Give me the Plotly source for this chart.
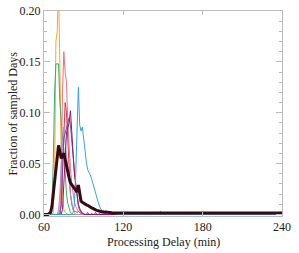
import plotly.graph_objects as go

START = 60
END = 240
delay = list(range(START, END + 1))

# Values per minute starting at 60 min; zero beyond listed values
orange = [0, 0, 0, 0, 0, 0, 0, 0.002, 0.04, 0.17, 0.18, 0.23, 0.13, 0.06, 0.02, 0.005, 0.002, 0.001]
green = [0, 0, 0, 0, 0, 0.002, 0.01, 0.05, 0.12, 0.148, 0.148, 0.148, 0.11, 0.09, 0.075, 0.065,
         0.04, 0.02, 0.011, 0.005, 0.002, 0.001]
pink = [0, 0, 0, 0, 0, 0, 0, 0, 0, 0, 0, 0, 0.005, 0.04, 0.12, 0.16, 0.14, 0.13, 0.09, 0.06,
        0.045, 0.03, 0.02, 0.012, 0.008, 0.005, 0.003, 0.002, 0.001]
crimson = [0, 0, 0, 0, 0, 0, 0, 0, 0, 0, 0, 0, 0, 0.01, 0.05, 0.09, 0.11, 0.10, 0.07, 0.04,
           0.02, 0.01, 0.005, 0.003, 0.003, 0.002, 0.003, 0.002, 0.001]
magenta = [0, 0, 0, 0, 0, 0, 0, 0, 0, 0, 0, 0, 0, 0, 0.005, 0.03, 0.06, 0.08, 0.085, 0.09,
           0.102, 0.08, 0.06, 0.04, 0.03, 0.02, 0.01, 0.006, 0.003, 0.002]
purple = [0, 0, 0, 0, 0, 0, 0, 0, 0, 0, 0, 0, 0, 0.01, 0.04, 0.075, 0.08, 0.086, 0.09, 0.095,
          0.088, 0.07, 0.057, 0.042, 0.03, 0.015, 0.008, 0.004, 0.002, 0.001, 0.001, 0, 0, 0.002,
          0, 0, 0.001, 0, 0, 0.002, 0, 0, 0.001, 0, 0, 0, 0.002, 0, 0, 0, 0.001, 0, 0, 0, 0.002,
          0, 0, 0, 0, 0.001, 0, 0, 0, 0, 0, 0.002, 0, 0, 0, 0, 0, 0, 0, 0, 0, 0, 0, 0, 0, 0,
          0, 0, 0, 0, 0, 0, 0, 0, 0.003, 0.001, 0]
lavender = [0, 0, 0, 0, 0, 0, 0, 0, 0, 0, 0, 0.005, 0.02, 0.05, 0.075, 0.086, 0.07, 0.06, 0.05,
            0.035, 0.02, 0.01, 0.005, 0.002]
blue = [0] * 22 + [0.002, 0.01, 0.04, 0.09, 0.125, 0.088, 0.082, 0.086, 0.073, 0.066, 0.052,
                   0.044, 0.042, 0.039, 0.035, 0.03, 0.027, 0.021, 0.016, 0.012, 0.008, 0.005,
                   0.003, 0.004, 0.002, 0.004, 0.002, 0.003, 0.001, 0.003, 0.001, 0.002, 0.001]
overall = [0, 0, 0, 0, 0.001, 0.002, 0.008, 0.02, 0.035, 0.05, 0.062, 0.068, 0.062, 0.055, 0.058,
           0.06, 0.054, 0.047, 0.042, 0.036, 0.031, 0.029, 0.027, 0.025, 0.023, 0.022, 0.029,
           0.018, 0.013, 0.012, 0.011, 0.010, 0.0095, 0.009, 0.008, 0.007, 0.0065, 0.006, 0.005,
           0.0045, 0.004, 0.0035, 0.003, 0.003, 0.0025, 0.0025, 0.0025, 0.002, 0.002, 0.002, 0.002]
overall_tail = 0.0015

x_title = "Processing Delay (min)"
y_title = "Fraction of sampled Days"

series = [
    ("orange", orange, "#f7a823", 1),
    ("green", green, "#35b26b", 1),
    ("pink", pink, "#f2707a", 1),
    ("crimson", crimson, "#e0344a", 1),
    ("lavender", lavender, "#a68fd2", 1),
    ("purple", purple, "#7a4ea6", 1),
    ("magenta", magenta, "#8e1a6a", 1),
    ("blue", blue, "#33a6df", 1),
]


def pad(vals, fill=0.0):
    return list(vals) + [fill] * (len(delay) - len(vals))


fig = go.Figure()
for name, vals, color, w in series:
    fig.add_trace(go.Scatter(x=delay, y=pad(vals), mode="lines", name=name,
                             line=dict(color=color, width=w)))
fig.add_trace(go.Scatter(x=delay, y=pad(overall, overall_tail), mode="lines", name="all",
                         line=dict(color="#3a0a14", width=3)))

axis_font = dict(family="Liberation Serif, Times New Roman, serif", size=12, color="#222")
fig.update_layout(
    width=299, height=253,
    margin=dict(l=44, r=17, t=11, b=37),
    paper_bgcolor="white", plot_bgcolor="white",
    showlegend=False,
    font=axis_font,
    xaxis=dict(range=[60, 240], tickvals=[60, 120, 180, 240], ticks="inside", ticklen=4,
               tickcolor="#bbbbbb", showline=True, linecolor="#bbbbbb", linewidth=1,
               mirror="ticks", showgrid=False, zeroline=False, automargin=False,
               tickfont=axis_font),
    yaxis=dict(range=[-0.0015, 0.2], tickvals=[0, 0.05, 0.10, 0.15, 0.20], tickformat=".2f",
               ticks="inside", ticklen=6, tickcolor="#bbbbbb", showline=True,
               linecolor="#bbbbbb", linewidth=1, mirror="ticks", showgrid=False,
               zeroline=False, automargin=False,
               minor=dict(ticks="inside", ticklen=3, dtick=0.01, tickcolor="#bbbbbb",
                          showgrid=False),
               tickfont=axis_font),
    annotations=[
        dict(text=x_title, xref="paper", yref="paper", x=0.5, y=-0.127,
             xanchor="center", yanchor="middle", showarrow=False, font=axis_font),
        dict(text=y_title, xref="paper", yref="paper", x=-0.134, y=0.5, textangle=-90,
             xanchor="center", yanchor="middle", showarrow=False, font=axis_font),
    ],
)

fig.write_html("out.html", config={"displayModeBar": False},
               post_script="document.body.style.margin='0';document.body.style.padding='0';")
